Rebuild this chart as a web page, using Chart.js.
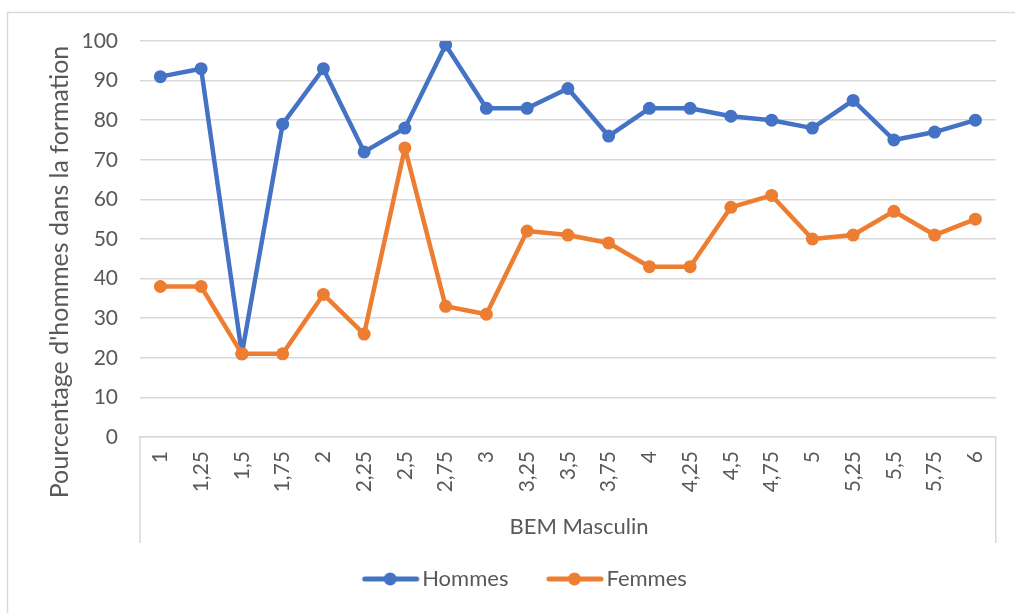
<!DOCTYPE html>
<html>
<head>
<meta charset="utf-8">
<script src="https://cdn.jsdelivr.net/npm/chart.js@4.4.1/dist/chart.umd.min.js"></script>
<style>
html,body{margin:0;padding:0;background:#fff;}
#wrap{width:1015px;height:613px;position:relative;}
</style>
</head>
<body>
<div id="wrap"><canvas id="c" width="1015" height="613"></canvas></div>
<script>
const categories = ["1","1,25","1,5","1,75","2","2,25","2,5","2,75","3","3,25","3,5","3,75","4","4,25","4,5","4,75","5","5,25","5,5","5,75","6"];
const hommes = [91,93,21,79,93,72,78,99,83,83,88,76,83,83,81,80,78,85,75,77,80];
const femmes = [38,38,21,21,36,26,73,33,31,52,51,49,43,43,58,61,50,51,57,51,55];
const yTitle = "Pourcentage d'hommes dans la formation";
const xTitle = "BEM Masculin";

const FONT = "Lato";
const TXT = "#595959";
const GRID = "#d9d9d9";
const BLUE = "#4472C4";
const ORANGE = "#ED7D31";

function legendIcon(color){
  const c = document.createElement('canvas');
  c.width = 96; c.height = 16;
  const g = c.getContext('2d');
  g.strokeStyle = color; g.lineWidth = 5; g.lineCap = 'round';
  g.beginPath(); g.moveTo(40,8); g.lineTo(92,8); g.stroke();
  g.fillStyle = color;
  g.beginPath(); g.arc(65.5,8,6.5,0,Math.PI*2); g.fill();
  return c;
}

const decor = {
  id:'decor',
  beforeDraw(chart){
    const ctx = chart.ctx;
    ctx.save();
    ctx.strokeStyle = GRID; ctx.lineWidth = 1.5;
    ctx.strokeRect(7.5,12.5,1200,800);
    ctx.restore();
  },
  afterDraw(chart){
    const ctx = chart.ctx, a = chart.chartArea;
    ctx.save();
    ctx.strokeStyle = GRID; ctx.lineWidth = 1.5;
    ctx.beginPath();
    ctx.moveTo(a.left, a.bottom); ctx.lineTo(a.left, a.bottom+106);
    ctx.moveTo(a.right, a.bottom); ctx.lineTo(a.right, a.bottom+106);
    ctx.stroke();
    ctx.fillStyle = TXT;
    ctx.textAlign = 'center'; ctx.textBaseline = 'middle';
    ctx.font = "22px " + FONT;
    ctx.fillText(xTitle, 579, 527);
    ctx.font = "25px " + FONT;
    ctx.translate(60, 272);
    ctx.rotate(-Math.PI/2);
    ctx.fillText(yTitle, 0, 0);
    ctx.restore();
  }
};

new Chart(document.getElementById('c'), {
  type:'line',
  data:{
    labels: categories,
    datasets:[
      {label:'Hommes', data:hommes, order:1, borderColor:BLUE, backgroundColor:BLUE, borderWidth:4.5,
       borderJoinStyle:'round', borderCapStyle:'round',
       pointRadius:6.5, pointHoverRadius:6.5, pointBackgroundColor:BLUE, pointBorderWidth:0, tension:0,
       pointStyle:'circle'},
      {label:'Femmes', data:femmes, order:0, borderColor:ORANGE, backgroundColor:ORANGE, borderWidth:4.5,
       borderJoinStyle:'round', borderCapStyle:'round',
       pointRadius:6.5, pointHoverRadius:6.5, pointBackgroundColor:ORANGE, pointBorderWidth:0, tension:0,
       pointStyle:'circle'}
    ]
  },
  options:{
    responsive:false,
    animation:false,
    events:[],
    layout:{autoPadding:false, padding:{left:23, right:17, top:41, bottom:13}},
    scales:{
      x:{
        offset:true,
        grid:{display:false, drawTicks:false},
        border:{display:true, color:GRID, width:1.5},
        ticks:{color:TXT, font:{family:FONT, size:21}, minRotation:90, maxRotation:90, padding:14, autoSkip:false},
        title:{display:false},
        afterFit(s){ s.height = 121; }
      },
      y:{
        min:0, max:100,
        ticks:{stepSize:10, color:TXT, font:{family:FONT, size:21}, padding:22},
        grid:{color:GRID, lineWidth:1.5, drawTicks:false},
        border:{display:false},
        afterFit(s){ s.width = 117; }
      }
    },
    plugins:{
      legend:{
        position:'bottom',
        labels:{
          usePointStyle:true, pointStyleWidth:77, padding:10,
          color:TXT, font:{family:FONT, size:22},
          generateLabels(chart){
            return chart.data.datasets.map((d,i)=>({
              text:d.label, fillStyle:d.borderColor, strokeStyle:d.borderColor,
              pointStyle:legendIcon(d.borderColor), datasetIndex:i, lineWidth:0, fontColor:TXT
            }));
          }
        }
      },
      tooltip:{enabled:false}
    }
  },
  plugins:[decor]
});
</script>
</body>
</html>
